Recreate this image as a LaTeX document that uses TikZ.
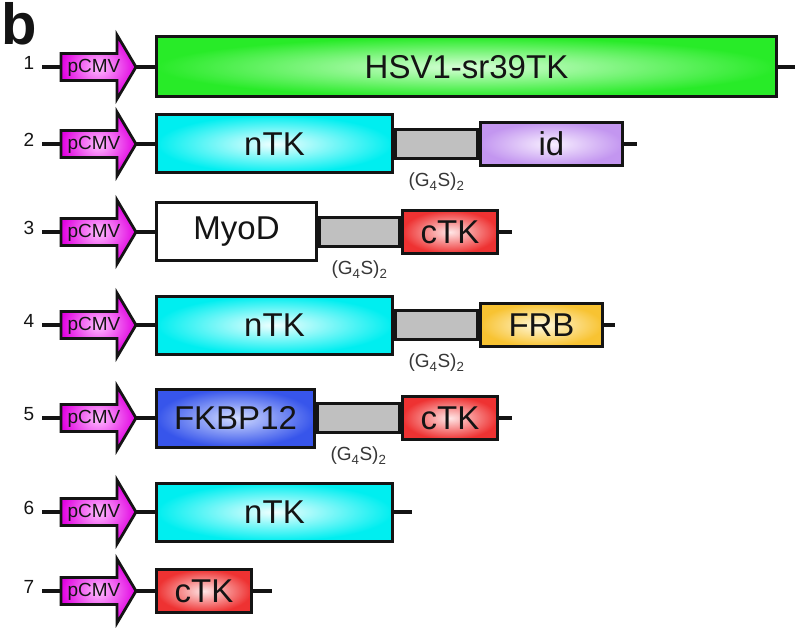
\documentclass[tikz,border=0pt]{standalone}
\usepackage{fontspec}
\setmainfont{Liberation Sans}
\usetikzlibrary{positioning}
\definecolor{ink}{RGB}{20,20,20}
\definecolor{gout}{RGB}{40,235,40}
\definecolor{gin}{RGB}{215,255,215}
\definecolor{cout}{RGB}{0,238,240}
\definecolor{cin}{RGB}{240,255,255}
\definecolor{purout}{RGB}{195,150,240}
\definecolor{purin}{RGB}{248,240,255}
\definecolor{rout}{RGB}{238,50,50}
\definecolor{rin}{RGB}{255,230,230}
\definecolor{oout}{RGB}{248,195,50}
\definecolor{oin}{RGB}{255,250,225}
\definecolor{bout}{RGB}{55,85,235}
\definecolor{bin}{RGB}{210,220,255}
\definecolor{magout}{RGB}{225,0,225}
\definecolor{magin}{RGB}{255,190,255}
\definecolor{linkgray}{RGB}{192,192,192}
\begin{document}
\begin{tikzpicture}[x=1pt,y=-1pt,
  wire/.style={line width=3.1pt, draw=ink},
  gene/.style={draw=ink, line width=3pt, inner sep=0pt, anchor=west,
    font=\fontsize{33}{38}\selectfont, text=ink},
  big/.style={gene, minimum height=58pt},
  small/.style={gene, minimum height=43pt},
  linker/.style={draw=ink, line width=3pt, fill=linkgray, inner sep=0pt,
    anchor=west, minimum height=29pt},
  promoter/.style={draw=ink, line width=2.8pt, line join=miter,
    inner color=magin, outer color=magout},
  ptext/.style={font=\fontsize{19}{21}\selectfont, inner sep=0pt, text=ink},
  num/.style={font=\fontsize{19}{21}\selectfont, inner sep=0pt, text=ink},
  linklab/.style={font=\fontsize{19}{22}\selectfont, inner sep=0pt, text=ink!85}
]
\useasboundingbox (0,0) rectangle (800,628);
\node[font=\bfseries\fontsize{58}{58}\selectfont, anchor=base west, inner sep=0pt, text=ink] (title) at (1,45) {b};

% promoters, numbers
\foreach \i/\y in {1/67,2/144,3/232,4/325,5/418,6/512,7/591}{
  \node[num] (n\i) at (29,\y-4) {\i};
  \coordinate (s\i) at (42,\y);
  \coordinate (pb\i) at (61,\y);
  \coordinate (tip\i) at (136,\y);
  \shadedraw[promoter] (61,\y-13.5) -- (117,\y-13.5) -- (117,\y-32) -- (tip\i)
     -- (117,\y+32) -- (117,\y+13.5) -- (61,\y+13.5) -- cycle;
  \node[ptext] (p\i) at (94,\y+1) {pCMV};
  \draw[wire] (s\i) -- (pb\i);
}

% row 1
\node[big, minimum height=60pt, minimum width=620pt, inner color=gin, outer color=gout] (a1) at (155,67) {HSV1-sr39TK};
\coordinate (e1) at (795,67);
\draw[wire] (a1.east) -- (e1);

% row 2
\node[big, minimum width=236pt, inner color=cin, outer color=cout] (a2) at (155,144) {nTK};
\node[linker, minimum width=82pt] (l2) at (a2.east) {};
\node[small, minimum width=142pt, inner color=purin, outer color=purout] (c2) at (l2.east) {id};
\node[linklab, below=13pt of l2] (t2) {(G\textsubscript{4}S)\textsubscript{2}};
\coordinate (e2) at (637,144);
\draw[wire] (c2.east) -- (e2);

% row 3
\node[big, minimum width=160pt, fill=white] (a3) at (155,232) {MyoD};
\node[linker, minimum width=80pt] (l3) at (a3.east) {};
\node[small, minimum width=95pt, inner color=rin, outer color=rout] (c3) at (l3.east) {cTK};
\node[linklab, below=13pt of l3] (t3) {(G\textsubscript{4}S)\textsubscript{2}};
\coordinate (e3) at (512,232);
\draw[wire] (c3.east) -- (e3);

% row 4
\node[big, minimum width=236pt, inner color=cin, outer color=cout] (a4) at (155,325) {nTK};
\node[linker, minimum width=82pt] (l4) at (a4.east) {};
\node[small, minimum width=122pt, inner color=oin, outer color=oout] (c4) at (l4.east) {FRB};
\node[linklab, below=13pt of l4] (t4) {(G\textsubscript{4}S)\textsubscript{2}};
\coordinate (e4) at (615,325);
\draw[wire] (c4.east) -- (e4);

% row 5
\node[big, minimum width=158pt, inner color=bin, outer color=bout] (a5) at (155,418) {FKBP12};
\node[linker, minimum width=82pt] (l5) at (a5.east) {};
\node[small, minimum width=95pt, inner color=rin, outer color=rout] (c5) at (l5.east) {cTK};
\node[linklab, below=13pt of l5] (t5) {(G\textsubscript{4}S)\textsubscript{2}};
\coordinate (e5) at (512,418);
\draw[wire] (c5.east) -- (e5);

% row 6
\node[big, minimum width=236pt, inner color=cin, outer color=cout] (a6) at (155,512) {nTK};
\coordinate (e6) at (412,512);
\draw[wire] (a6.east) -- (e6);

% row 7
\node[small, minimum width=95pt, inner color=rin, outer color=rout] (a7) at (155,591) {cTK};
\coordinate (e7) at (272,591);
\draw[wire] (a7.east) -- (e7);

% promoter to first gene
\foreach \i in {1,...,7}{
  \draw[wire] (tip\i) -- (a\i.west);
}
\end{tikzpicture}
\end{document}
